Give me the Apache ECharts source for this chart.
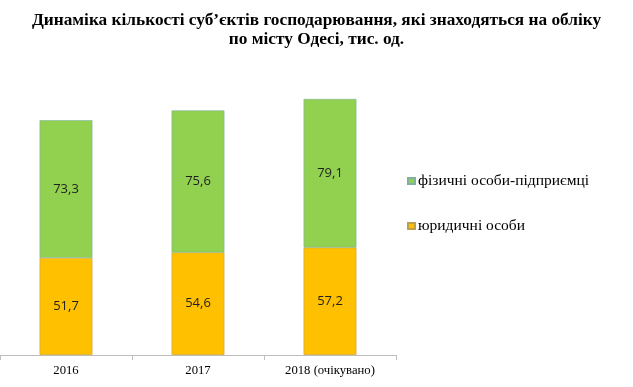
<!DOCTYPE html>
<html><head><meta charset="utf-8">
<script src="https://cdn.jsdelivr.net/npm/echarts@6/dist/echarts.min.js"></script>
<style>html,body{margin:0;padding:0;background:#fff}#c{width:633px;height:387px}</style>
</head><body><div id="c"></div>
<script>
const categories = ['2016', '2017', '2018 (очікувано)'];
const legalEntities = [51.7, 54.6, 57.2];
const individualEntrepreneurs = [73.3, 75.6, 79.1];
const seriesNames = ['юридичні особи', 'фізичні особи-підприємці'];
const titleText = 'Динаміка кількості суб’єктів господарювання, які знаходяться на обліку\nпо місту Одесі, тис. од.';

const serif = 'Liberation Serif';
const chart = echarts.init(document.getElementById('c'));
const labelCfg = {show: true, position: 'inside', color: '#1f1f1f', fontFamily: 'Open Sans', fontSize: 13,
  formatter: p => String(p.value).replace('.', ',')};
chart.setOption({
  animation: false,
  title: {text: titleText, left: 'center', top: 6,
    textStyle: {fontFamily: serif, fontSize: 17.3, fontWeight: 'bold', color: '#000', lineHeight: 19}},
  legend: {orient: 'vertical', left: 402, top: 168, itemWidth: 7, itemHeight: 6, itemGap: 29,
    data: [seriesNames[1], seriesNames[0]], icon: 'rect',
    textStyle: {fontFamily: serif, fontSize: 15.5, color: '#000', lineHeight: 15, padding: [0,0,0,-2]}},
  grid: {left: 0, right: 237, top: 92, bottom: 32},
  xAxis: {type: 'category', data: categories,
    axisLine: {lineStyle: {color: '#bfbfbf'}},
    axisTick: {show: true, length: 5, lineStyle: {color: '#bfbfbf'}},
    axisLabel: {fontFamily: serif, fontSize: 12.7, color: '#000', margin: 9}},
  yAxis: {type: 'value', min: 0, max: 140, show: false, splitLine: {show: false}},
  series: [
    {name: seriesNames[0], type: 'bar', stack: 's', data: legalEntities, barWidth: '40%',
      itemStyle: {color: '#FFC000', borderColor: '#bfa04a', borderWidth: 0.6}, label: labelCfg},
    {name: seriesNames[1], type: 'bar', stack: 's', data: individualEntrepreneurs, barWidth: '40%',
      itemStyle: {color: '#92D050', borderColor: '#7fb0a0', borderWidth: 0.6}, label: labelCfg}
  ]
});
</script></body></html>
